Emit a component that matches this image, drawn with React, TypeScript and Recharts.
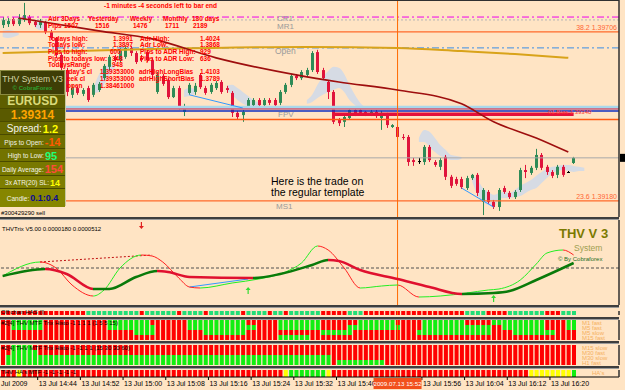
import React from "react";
import {
  ComposedChart,
  BarChart,
  Bar,
  Line,
  Area,
  XAxis,
  YAxis,
  ReferenceLine,
  ReferenceDot,
  Cell,
} from "recharts";

// 1-minute EURUSD bars, 13 Jul 2009 14:38 .. 16:25, as [open, high, low, close]
const candles: number[][] = [
  [1.39727, 1.39752, 1.39718, 1.39743], [1.3973, 1.39749, 1.39721, 1.3974], [1.39746, 1.39752, 1.39724, 1.3973],
  [1.3973, 1.39761, 1.39724, 1.39749], [1.39743, 1.39796, 1.39737, 1.39758], [1.39752, 1.39758, 1.39727, 1.39733],
  [1.39737, 1.39743, 1.39721, 1.39727], [1.39727, 1.39746, 1.39718, 1.3974], [1.39737, 1.3974, 1.39699, 1.39705],
  [1.39705, 1.39712, 1.39681, 1.39687], [1.39687, 1.3969, 1.39625, 1.39634], [1.39634, 1.39643, 1.39581, 1.39594],
  [1.39587, 1.39594, 1.39506, 1.39519], [1.3951, 1.39541, 1.395, 1.39531], [1.39531, 1.39538, 1.3951, 1.39516],
  [1.39513, 1.39531, 1.39506, 1.39525], [1.39531, 1.39538, 1.39488, 1.39494], [1.3951, 1.39547, 1.39503, 1.39541],
  [1.39525, 1.3955, 1.39519, 1.39544], [1.39562, 1.39606, 1.39556, 1.396], [1.39597, 1.39634, 1.39587, 1.39628],
  [1.39628, 1.39634, 1.39612, 1.39618], [1.39618, 1.39656, 1.39612, 1.3965], [1.39628, 1.39665, 1.39622, 1.39656],
  [1.39656, 1.39662, 1.39631, 1.3964], [1.3964, 1.39646, 1.39606, 1.39612], [1.39625, 1.39634, 1.39612, 1.39618],
  [1.39643, 1.3965, 1.39612, 1.39618], [1.39618, 1.39625, 1.39562, 1.39572], [1.39519, 1.39581, 1.39513, 1.39572],
  [1.39569, 1.39575, 1.39538, 1.39544], [1.39556, 1.39562, 1.39497, 1.39503], [1.39503, 1.39538, 1.395, 1.39531],
  [1.39531, 1.39538, 1.39463, 1.39472], [1.39457, 1.39482, 1.39444, 1.39475], [1.39516, 1.39547, 1.3951, 1.39541],
  [1.39519, 1.39547, 1.3951, 1.39538], [1.39572, 1.39578, 1.39528, 1.39534], [1.39531, 1.39538, 1.3951, 1.39516],
  [1.39519, 1.39547, 1.39513, 1.39541], [1.39531, 1.39553, 1.39525, 1.39547], [1.3955, 1.39556, 1.39513, 1.39519],
  [1.39531, 1.39538, 1.39516, 1.39525], [1.39516, 1.39522, 1.39441, 1.39454], [1.39454, 1.3946, 1.39435, 1.39441],
  [1.39447, 1.39463, 1.39426, 1.39457], [1.39472, 1.395, 1.39466, 1.39494], [1.39478, 1.395, 1.39472, 1.39494],
  [1.39494, 1.395, 1.39472, 1.39478], [1.39478, 1.395, 1.39472, 1.39494], [1.39494, 1.395, 1.39478, 1.39485],
  [1.39494, 1.395, 1.39472, 1.39478], [1.39485, 1.39525, 1.39478, 1.39519], [1.39519, 1.39547, 1.39513, 1.39541],
  [1.39541, 1.39575, 1.39534, 1.39569], [1.39569, 1.39575, 1.39556, 1.39562], [1.39562, 1.39587, 1.39556, 1.39581],
  [1.39572, 1.39594, 1.39566, 1.39587], [1.39587, 1.39646, 1.39581, 1.3964], [1.39643, 1.3965, 1.39575, 1.39581],
  [1.39587, 1.39594, 1.39556, 1.39562], [1.3955, 1.39556, 1.39497, 1.39519], [1.39519, 1.39525, 1.39419, 1.39426],
  [1.39432, 1.39438, 1.39413, 1.39422], [1.39426, 1.39447, 1.3941, 1.39441], [1.39438, 1.39469, 1.39432, 1.39463],
  [1.39463, 1.39466, 1.39444, 1.3945], [1.39463, 1.39469, 1.39447, 1.39454], [1.39457, 1.3946, 1.39444, 1.3945],
  [1.3945, 1.39463, 1.39444, 1.39457], [1.39457, 1.39463, 1.39438, 1.39444], [1.39438, 1.3946, 1.39401, 1.39454],
  [1.39447, 1.39454, 1.39407, 1.39416], [1.3941, 1.39419, 1.39407, 1.39416], [1.3941, 1.39416, 1.39373, 1.39379],
  [1.39379, 1.39388, 1.3937, 1.39376], [1.39379, 1.39385, 1.39289, 1.39301], [1.39307, 1.39314, 1.39289, 1.39301],
  [1.39304, 1.39314, 1.39295, 1.39304], [1.39301, 1.39354, 1.39292, 1.39348], [1.39348, 1.39354, 1.39301, 1.39307],
  [1.39301, 1.39307, 1.39286, 1.39292], [1.39286, 1.39314, 1.39276, 1.39307], [1.39317, 1.39323, 1.39245, 1.39255],
  [1.39255, 1.39261, 1.3922, 1.39227], [1.39248, 1.39255, 1.39227, 1.39233], [1.39248, 1.39255, 1.39217, 1.39223],
  [1.3922, 1.39258, 1.39214, 1.39251], [1.39251, 1.39264, 1.39245, 1.39261], [1.39261, 1.39267, 1.39195, 1.39205],
  [1.39177, 1.3922, 1.39136, 1.39214], [1.39208, 1.39214, 1.39171, 1.39177], [1.39177, 1.39183, 1.39155, 1.39161],
  [1.39161, 1.3922, 1.39149, 1.39214], [1.3922, 1.39227, 1.39202, 1.39208], [1.39205, 1.39211, 1.39186, 1.39192],
  [1.39192, 1.39214, 1.39186, 1.39208], [1.39214, 1.39283, 1.39208, 1.39276], [1.39276, 1.39292, 1.39251, 1.3927],
  [1.39267, 1.39289, 1.39261, 1.39283], [1.39283, 1.39342, 1.39276, 1.39323], [1.39323, 1.39329, 1.39276, 1.39283],
  [1.39286, 1.39292, 1.39261, 1.3927], [1.3927, 1.39276, 1.39251, 1.39258], [1.39261, 1.39292, 1.39251, 1.39286],
  [1.39286, 1.39292, 1.39255, 1.39261], [1.3927, 1.39273, 1.39267, 1.3927], [1.39298, 1.39317, 1.39295, 1.39314],
];

// moving averages, read at a few bars: [bar, price]
const maRed: number[][] = [
  [3, 1.39749], [18, 1.39709], [28, 1.39684], [40, 1.39625], [55, 1.39572], [63, 1.3955],
  [74, 1.39525], [86, 1.39482], [92, 1.39426], [100, 1.39376], [106, 1.39332],
];
const maGold: number[][] = [
  [0, 1.3964], [7, 1.39643], [30, 1.39653], [57, 1.39659], [74, 1.39656], [86, 1.39646], [96, 1.39637], [106, 1.39625],
];

// grey cloud: [bar, low, high]
const cloud: number[][] = [
  [0, 1.3969, 1.39709], [1, 1.39687, 1.39712], [2, 1.3969, 1.39709], [3, 1.39696, 1.39702],
  [6, 1.39721, 1.3973], [7, 1.39712, 1.39743], [8, 1.39715, 1.39733],
  [17, 1.39516, 1.39531], [18, 1.39519, 1.39572], [19, 1.39541, 1.39597], [20, 1.39572, 1.39603], [21, 1.39594, 1.39606],
  [34, 1.39503, 1.39525], [35, 1.39506, 1.39531], [36, 1.39513, 1.39528],
  [42, 1.39525, 1.39538], [43, 1.3951, 1.39541], [44, 1.39494, 1.39531], [45, 1.39482, 1.39519], [46, 1.39475, 1.39506],
  [47, 1.39472, 1.39494], [48, 1.39472, 1.39485],
  [57, 1.39482, 1.39494], [58, 1.39488, 1.3951], [59, 1.395, 1.39541], [60, 1.3951, 1.39566], [61, 1.39519, 1.39584],
  [62, 1.39525, 1.39597], [63, 1.39531, 1.39594], [64, 1.39519, 1.39575], [65, 1.39494, 1.39541], [66, 1.39478, 1.3951],
  [67, 1.39463, 1.39485], [68, 1.39457, 1.39469],
  [78, 1.39363, 1.39376], [79, 1.39363, 1.39401], [80, 1.39348, 1.39395], [81, 1.39332, 1.39376], [82, 1.3932, 1.39354],
  [83, 1.39314, 1.39339], [84, 1.39307, 1.39323], [85, 1.39307, 1.3932], [86, 1.39311, 1.39317],
  [88, 1.39239, 1.39261], [89, 1.39199, 1.39245], [90, 1.39177, 1.3922], [91, 1.39167, 1.39208], [92, 1.39161, 1.39199],
  [93, 1.39186, 1.39205], [94, 1.39189, 1.39208], [95, 1.39189, 1.39205], [96, 1.39192, 1.39214], [97, 1.39195, 1.39227],
  [98, 1.39205, 1.39236], [99, 1.39214, 1.39245], [100, 1.3922, 1.39258], [101, 1.39236, 1.3927], [102, 1.39251, 1.3928],
  [103, 1.39267, 1.39286], [104, 1.39273, 1.39289], [105, 1.39276, 1.39292], [106, 1.39273, 1.39292], [107, 1.3927, 1.39289],
  [108, 1.39273, 1.39286], [109, 1.39273, 1.39283],
];

// THVTrix, in units of 1e-5: [bar, value]
const trixFast: number[][] = [
  [0, -1.6], [7, 1.2], [10, 0], [13, -3.4], [17, -5.6], [19, -4.4], [22, 0], [26, 2.6], [28, 2.4], [30, 1.2],
  [33, -2.0], [35, -3.8], [37, -4.0], [43, -3.0], [48, -2.2], [53, -0.8], [56, 1.0], [59, 4.4], [61, 3.6], [64, 0],
  [67, -4.0], [71, -3.6], [74, -3.4], [78, -5.8], [82, -5.6], [87, -5.0], [91, -4.4], [93, -4.2], [97, -2.4],
  [100, 0.8], [102, 3.0], [105, 3.6], [107, 2.6],
];
const trixSlow: number[][] = [
  [0, -1.6], [8, -0.2], [12, -1.2], [17, -4.2], [20, -4.2], [25, -1.8], [29, -0.6], [31, -0.8], [35, -1.8],
  [47, -2.0], [52, -1.2], [58, 0.6], [61, 1.6], [63, 1.4], [67, -0.4], [74, -2.2], [80, -3.8], [86, -5.2],
  [92, -5.0], [95, -4.6], [100, -2.4], [107, 1.0],
];

// signal boxes per bar: R red, G green, Y yellow
const hasRow = [
  "RRRRRRRRRRRRRRRR", "GGGGGGGGGG", "R", "GGGGGG", "R", "GGGG", "R", "GGGGGG", "R", "GGGG", "R", "GG", "R",
  "GGGGGG", "RRRRR", "GGG", "RRRRRRRRRRRRRRRRRRR", "GGGG", "RRRR", "GGGGGGG", "RRR", "GGG",
].join("");
const mtfLow = [
  ["RR", "GGGGGG", "RRRRRRRRRRRR", "GGGGGGGG", "RRRRRRR", "GGGGGGGGGGG", "RRRRRR", "GGGGGGGG", "RRRRRRR", "GGGGGGG", "RRRRR", "GGGGGGGG", "RRRRR", "GGGGGGGGGG", "RRRR", "GG"].join(""),
  ["RR", "GGGGGG", "RRRRRRRRRRRR", "GGGGGGGGG", "RRRRRR", "GGGGGGGGGGGGG", "RRRR", "GGGGGGGG", "RRRRR", "GGGGGGGGGG", "RRRR", "GGGGGGGGGGGGG", "RR", "GGGGGGGG", "RRRR", "GG"].join(""),
  ["RRRRRRRRRRRRRRRRRRRRRRRRR", "GGGG", "RRRRRRRRR", "GGGGGGGG", "RRRRRRRRRRRRRR", "GGGGGG", "RRRRRRRRRRRR", "GGGGGGGGGGGGGG", "RRRR", "GGGGGGGG", "RRRR"].join(""),
  ["RRRRRRRRRRRRRRRRRRRRRRRRRRRRRRRRRRRRRRRRRRRRRRRRRRRR", "GGGGGG", "RRRRRRRRRRRRRRRRRRRRRRRRRRRRRRRRRRRRRRRRRRRRRRRRRR"].join(""),
];
const mtfHigh = [
  ["RR", "GGGG", "RRRRRRRRRRRRRRRRRRRRRRRRRRRRRRRRRRRRRRRRRRRRRRRRRRRRRRRRRRRRRRRRRRRRRRRRRRRRRRRRRRRRRRRRRRRRRRRRRRRRRRRR"].join(""),
  ["RR", "GGGGG", "RRRRRRRRRRRRRRRRRRRRRRRRRRRRRRRRRRRRRRRRRRRRRRRRRRRRRRRRRRRRRRRRRRRRRRRRRRRRRRRRRRRRRRRRRRRRRRRRRRRRRR"].join(""),
  ["R", "GGGGGGGGGGGGGGGGGGGGGGGGGGGGGGGGGGGGGGGGGGGGGGGGGGGGGGGGGGGGG", "RRRRRRRRRRRRRRRRRRRRRRRRRRRRRRRRRRRRRRRRRRRRRR"].join(""),
  ["R", "GGGGGGGGGGGGGGGGGGGGGGGGGGGGGGGGGGGGGGGGGGGGGGGGGGGGGGGGGGGGG", "R", "GGGGGGGGG", "RRRRRRRRRRRRRRRRRRRRRRRRRRRRRRRRRRRR"].join(""),
];
const haRow = [
  "RRR", "Y", "RRRRRRRRRRRRRRRRRRRRRRRRRRRRRRRRRRRRRRRRRRRRRRRRR", "Y", "GGGGGGG", "Y",
  "RRRRRRRRRRRRRRRRRRRRRRRRRRRRRRRRRRRRR", "YYYYYYYY", "G",
].join("");

// 15:48 sits under the highlighted 15:52 label, so it is not listed
const timeTicks = [0, 6, 14, 22, 30, 38, 46, 54, 62, 78, 86, 94, 102, 74];
const timeTexts = [
  "Jul 2009", "13 Jul 14:44", "13 Jul 14:52", "13 Jul 15:00", "13 Jul 15:08", "13 Jul 15:16", "13 Jul 15:24",
  "13 Jul 15:32", "13 Jul 15:40", "13 Jul 15:56", "13 Jul 16:04", "13 Jul 16:12", "13 Jul 16:20",
  "2009.07.13 15:52",
];
const markedBar = 74;
const barCount = candles.length;
const slotCount = 116; // bars plus the empty chart shift on the right

const BG = "#FFE4C4";
const FONT = "'Liberation Sans', Arial, sans-serif";
const RED = "#FF0000";
const GREEN = "#11EE11";

const slots = Array.from({ length: slotCount }, (_, i) => i);
const toMap = (pts: number[][]) => new Map(pts.map((p) => [p[0], p[1]]));
const maRedMap = toMap(maRed);
const maGoldMap = toMap(maGold);
const cloudMap = new Map(cloud.map((c) => [c[0], [c[1], c[2]]]));
const fastMap = toMap(trixFast);
const slowMap = toMap(trixSlow);

const mainRows = slots.map((i) => ({
  i,
  ohlc: candles[i] ?? null,
  ma: maRedMap.get(i) ?? null,
  gold: maGoldMap.get(i) ?? null,
  cloud: cloudMap.get(i) ?? null,
}));
const trixRows = slots.map((i) => ({ i, fast: fastMap.get(i) ?? null, slow: slowMap.get(i) ?? null }));
const boxRows = slots.map((i) => ({ i, a: i < barCount ? 1 : null, b: i < barCount ? 1 : null, c: i < barCount ? 1 : null, d: i < barCount ? 1 : null }));

const colorOf = (ch: string, green = GREEN) => (ch === "G" ? green : ch === "Y" ? "#FFFF00" : RED);

// colour a line green where it rises and red where it falls
const directionStops = (pts: number[][], up: string, down: string) => {
  const first = pts[0][0];
  const last = pts[pts.length - 1][0];
  const out: { off: number; color: string }[] = [];
  for (let k = 0; k < pts.length - 1; k++) {
    const color = pts[k + 1][1] >= pts[k][1] ? up : down;
    out.push({ off: (pts[k][0] - first) / (last - first), color });
    out.push({ off: (pts[k + 1][0] - first) / (last - first), color });
  }
  return out;
};

const Candle = (props: any) => {
  const { x, y, width, height, payload } = props;
  if (!payload || !payload.ohlc) return null;
  const [o, h, l, c] = payload.ohlc;
  const top = Math.min(y, y + height);
  const hgt = Math.abs(height);
  const span = h - l || 1e-9;
  const toY = (v: number) => top + ((h - v) / span) * hgt;
  const color = c > o ? "#2E8B57" : c < o ? "#E0143C" : "#000000";
  const cx = Math.round(x + width / 2) + 0.5;
  const bTop = toY(Math.max(o, c));
  const bBot = toY(Math.min(o, c));
  return (
    <g>
      <line x1={cx} x2={cx} y1={top} y2={top + hgt} stroke={color} strokeWidth={1} />
      <rect x={cx - 1.5} y={bTop} width={3} height={Math.max(1, bBot - bTop)} fill={color} />
    </g>
  );
};

const Arrow = (props: any) => {
  const { cx, cy, fill, up } = props;
  if (cx == null) return null;
  const d = up ? -1 : 1;
  return (
    <g stroke={fill} fill={fill}>
      <line x1={cx} x2={cx} y1={cy - 3 * d} y2={cy + 2 * d} strokeWidth={1.2} />
      <polygon points={`${cx - 2.5},${cy + 1 * d} ${cx + 2.5},${cy + 1 * d} ${cx},${cy + 4 * d}`} stroke="none" />
    </g>
  );
};

const rightLabel = (text: string, color: string) => (p: any) => {
  const vb = p.viewBox || {};
  return (
    <text x={vb.x + vb.width - 2} y={vb.y - 2} textAnchor="end" fontSize={7} fill={color} fontFamily={FONT}>
      {text}
    </text>
  );
};

const PriceBox = (p: any) => {
  const vb = p.viewBox || {};
  return <rect x={vb.x + vb.width + 1} y={vb.y - 4} width={8} height={8} fill="#000" />;
};

const TimeTick = (props: any) => {
  const { x, y, payload } = props;
  const k = timeTicks.indexOf(payload.value);
  const text = timeTexts[k];
  if (payload.value === markedBar) {
    return (
      <g>
        <rect x={x - 24} y={y + 1} width={48} height={11} fill="#F2501C" />
        <text x={x} y={y + 9} textAnchor="middle" fontSize={6.2} fill="#FFFFFF" fontFamily={FONT}>{text}</text>
      </g>
    );
  }
  if (k === 0) {
    return <text x={1} y={y + 9} fontSize={7} fill="#000" fontFamily={FONT}>{text}</text>;
  }
  return (
    <g>
      <line x1={x + 3} x2={x + 3} y1={y} y2={y + 3} stroke="#000" />
      <text x={x + 4} y={y + 9} fontSize={7} fill="#000" fontFamily={FONT}>{text}</text>
    </g>
  );
};

const xAxis = () => <XAxis dataKey="i" type="category" scale="band" hide />;
const axisRight = {
  orientation: "right" as const,
  width: 6,
  axisLine: { stroke: "#303030", strokeWidth: 1.5 },
  tickLine: { stroke: "#000" },
  tickSize: 3,
  tick: false,
};

const MainPanel = () => {
  return (
    <ComposedChart width={625} height={217} data={mainRows} margin={{ top: 0, right: 0, bottom: 0, left: 0 }} barGap={0}>
      {xAxis()}
      <YAxis {...axisRight} domain={[1.3913, 1.39805]} ticks={[1.3916, 1.3929, 1.3942, 1.3955, 1.3968, 1.3978]} allowDataOverflow />
      <Area dataKey="cloud" type="monotone" fill="#D6DBE4" fillOpacity={1} stroke="none" isAnimationActive={false} connectNulls={false} />
      <ReferenceLine y={1.39752} stroke="#EE00EE" strokeDasharray="7 3 2 3" />
      <ReferenceLine y={1.39743} stroke="#B4B4B4" strokeDasharray="2 2" />
      <ReferenceLine y={1.39706} stroke="#FF6A2A" strokeWidth={1.2} label={rightLabel("38.2 1.39706", "#FF6633")} />
      <ReferenceLine y={1.39656} stroke="#3A8EE6" strokeDasharray="7 3 2 3" />
      <ReferenceLine y={1.3947} stroke="#A9D8EC" strokeWidth={4} />
      <ReferenceLine y={1.39466} stroke="#E8203A" strokeWidth={1} />
      <ReferenceLine y={1.3946} stroke="#1030C0" strokeWidth={1.5} />
      <ReferenceLine segment={[{ x: 62, y: 1.3945 }, { x: 107, y: 1.3945 }]} stroke="#E4103A" strokeWidth={3.5} />
      <ReferenceLine y={1.39433} stroke="#FF5A10" strokeWidth={1.5} />
      <ReferenceLine y={1.39314} stroke="#A8A8A8" label={PriceBox} />
      <ReferenceLine y={1.3918} stroke="#FF6A2A" strokeWidth={1.2} label={rightLabel("23.6 1.39180", "#FF6633")} />
      <ReferenceLine segment={[{ x: 35, y: 1.3951 }, { x: 45, y: 1.39469 }]} stroke="#3399FF" />
      <ReferenceLine segment={[{ x: 86, y: 1.3922 }, { x: 92, y: 1.39161 }]} stroke="#3399FF" />
      <ReferenceLine x={markedBar} stroke="#FF6A00" />
      <Bar dataKey={(d: any) => (d.ohlc ? [d.ohlc[2], d.ohlc[1]] : null)} shape={Candle} barSize={3} isAnimationActive={false} />
      <Line dataKey="gold" type="monotone" stroke="#D9A31A" strokeWidth={2} dot={false} connectNulls isAnimationActive={false} />
      <Line dataKey="ma" type="monotone" stroke="#9E0E0E" strokeWidth={1.6} dot={false} connectNulls isAnimationActive={false} />
    </ComposedChart>
  );
};

const TrixPanel = () => {
  const fastStops = directionStops(trixFast, "#22EE22", "#FF2020");
  const slowStops = directionStops(trixSlow, "#0A7A0A", "#E0102F");
  return (
    <ComposedChart width={625} height={85} data={trixRows} margin={{ top: 0, right: 0, bottom: 0, left: 0 }}>
      <defs>
        <linearGradient id="gFast" x1="0" x2="1" y1="0" y2="0">
          {fastStops.map((s, k) => <stop key={k} offset={s.off} stopColor={s.color} />)}
        </linearGradient>
        <linearGradient id="gSlow" x1="0" x2="1" y1="0" y2="0">
          {slowStops.map((s, k) => <stop key={k} offset={s.off} stopColor={s.color} />)}
        </linearGradient>
      </defs>
      {xAxis()}
      <YAxis {...axisRight} domain={[-7.4, 9.6]} ticks={[-5, 0, 5]} allowDataOverflow />
      <ReferenceLine y={0} stroke="#505050" strokeDasharray="3 2" />
      <ReferenceLine x={markedBar} stroke="#FF6A00" />
      <ReferenceLine segment={[{ x: 7, y: 1.2 }, { x: 28, y: 2.6 }]} stroke="#C01010" strokeDasharray="2 2" />
      <ReferenceLine segment={[{ x: 35, y: -3.8 }, { x: 46, y: -2.2 }]} stroke="#3399FF" />
      <ReferenceLine segment={[{ x: 87, y: -5.0 }, { x: 92, y: -5.0 }]} stroke="#3399FF" />
      <Line dataKey="fast" type="monotone" stroke="url(#gFast)" strokeWidth={1} dot={false} connectNulls isAnimationActive={false} />
      <Line dataKey="slow" type="monotone" stroke="url(#gSlow)" strokeWidth={2.5} dot={false} connectNulls isAnimationActive={false} />
      <ReferenceDot x={26} y={8.6} r={3} fill="#E02020" shape={(p: any) => <Arrow {...p} fill="#E02020" up={false} />} />
      <ReferenceDot x={46} y={-4.6} r={3} fill="#33DD33" shape={(p: any) => <Arrow {...p} fill="#33DD33" up />} />
      <ReferenceDot x={92} y={-6.2} r={3} fill="#33DD33" shape={(p: any) => <Arrow {...p} fill="#33DD33" up />} />
    </ComposedChart>
  );
};

const BoxPanel = ({ rows, height, top, bottom, green, withAxis }: any) => {
  const keys = ["a", "b", "c", "d"].slice(0, rows.length);
  return (
    <BarChart width={625} height={height} data={boxRows} margin={{ top, right: 0, bottom, left: 0 }} barGap={0}>
      {withAxis ? (
        <XAxis dataKey="i" type="category" scale="band" ticks={timeTicks} interval={0} tick={TimeTick} tickSize={0} tickMargin={0} height={13} axisLine={{ stroke: "#000" }} tickLine={false} />
      ) : (
        xAxis()
      )}
      <YAxis {...axisRight} domain={[0, rows.length]} ticks={[]} allowDataOverflow />
      {keys.map((key, r) => {
        const row = rows[rows.length - 1 - r];
        return (
          <Bar key={key} dataKey={key} stackId="s" barSize={4} isAnimationActive={false}>
            {slots.map((i) => <Cell key={i} fill={colorOf(row[i] || "R", green)} />)}
          </Bar>
        );
      })}
      <ReferenceLine x={markedBar} stroke="#FF6A00" />
    </BarChart>
  );
};

const Txt = ({ x, y, size = 6.5, color = "#FF0000", bold = true, children }: any) => (
  <div
    style={{
      position: "absolute", left: x, top: y, fontSize: size, lineHeight: `${size + 1}px`, color,
      fontWeight: bold ? 700 : 400, whiteSpace: "nowrap",
    }}
  >
    {children}
  </div>
);

const Sep = ({ y, h = 2 }: any) => (
  <div style={{ position: "absolute", left: 0, top: y, width: 619, height: h, background: "#3E3E3E", borderBottom: "1px solid #9A9A9A" }} />
);

const infoRow = (label: string, value: string, valueColor: string, bg: string, top: number, h: number, labelSize = 6.5, valueSize = 11) => (
  <div style={{ position: "absolute", left: 0, top, width: 65, height: h, background: bg, borderTop: "1px solid #4A4A00", display: "flex", alignItems: "center", justifyContent: "center", whiteSpace: "nowrap" }}>
    <span style={{ fontSize: labelSize, color: "#F4F4E8" }}>{label}</span>
    <span style={{ fontSize: valueSize, fontWeight: 700, color: valueColor, marginLeft: 1 }}>{value}</span>
  </div>
);

export default function App() {
  return (
    <div style={{ position: "absolute", left: 0, top: 0, width: 625, height: 390, overflow: "hidden", background: BG, fontFamily: FONT }}>
      <div style={{ position: "absolute", left: 0, top: 0 }}><MainPanel /></div>
      <div style={{ position: "absolute", left: 0, top: 0, width: 619, height: 1, background: "#303030" }} />
      <Sep y={217} h={2} />
      <div style={{ position: "absolute", left: 0, top: 220 }}><TrixPanel /></div>
      <Sep y={305} />
      <div style={{ position: "absolute", left: 0, top: 307 }}>
        <BoxPanel rows={[hasRow]} height={10} top={4} bottom={2} green="#22DD77" />
      </div>
      <Sep y={317} />
      <div style={{ position: "absolute", left: 0, top: 319 }}>
        <BoxPanel rows={mtfLow} height={22} top={1} bottom={1} />
      </div>
      <Sep y={341} h={2} />
      <div style={{ position: "absolute", left: 0, top: 344 }}>
        <BoxPanel rows={mtfHigh} height={22} top={1} bottom={1} />
      </div>
      <Sep y={366} />
      <div style={{ position: "absolute", left: 0, top: 368 }}>
        <BoxPanel rows={[haRow]} height={22} top={2} bottom={0} withAxis />
      </div>

      {/* info text over the price window */}
      <Txt x={104} y={2}>-1 minutes -4 seconds left to bar end</Txt>
      <Txt x={48} y={15}>Adr 3Days</Txt>
      <Txt x={88} y={15}>Yesterday</Txt>
      <Txt x={130} y={15}>Weekly</Txt>
      <Txt x={163} y={15}>Monthly</Txt>
      <Txt x={192} y={15}>180 days</Txt>
      <Txt x={48} y={22}>Pips</Txt>
      <Txt x={64} y={22}>1507</Txt>
      <Txt x={95} y={22}>1516</Txt>
      <Txt x={133} y={22}>1476</Txt>
      <Txt x={165} y={22}>1711</Txt>
      <Txt x={193} y={22}>2189</Txt>
      <Txt x={48} y={35}>Todays high:</Txt>
      <Txt x={113} y={35}>1.3991</Txt>
      <Txt x={140} y={35}>Adr High:</Txt>
      <Txt x={200} y={35}>1.4024</Txt>
      <Txt x={48} y={41}>Todays low:</Txt>
      <Txt x={113} y={41}>1.3897</Txt>
      <Txt x={140} y={41}>Adr Low:</Txt>
      <Txt x={200} y={41}>1.3868</Txt>
      <Txt x={48} y={48}>Pips to high:</Txt>
      <Txt x={110} y={48}>600</Txt>
      <Txt x={140} y={48}>Pips to ADR High:</Txt>
      <Txt x={200} y={48}>929</Txt>
      <Txt x={48} y={55}>Pips to todays low:</Txt>
      <Txt x={112} y={55}>348</Txt>
      <Txt x={140} y={55}>Pips to ADR Low:</Txt>
      <Txt x={200} y={55}>636</Txt>
      <Txt x={48} y={61}>TodaysRange</Txt>
      <Txt x={112} y={61}>948</Txt>
      <Txt x={66} y={68}>rday's cl</Txt>
      <Txt x={100} y={68}>1.39353000</Txt>
      <Txt x={139} y={68}>adrHighLongBias</Txt>
      <Txt x={200} y={68}>1.4103</Txt>
      <Txt x={67} y={75}>eek cl</Txt>
      <Txt x={100} y={75}>1.39353000</Txt>
      <Txt x={139} y={75}>adrHighShortBias</Txt>
      <Txt x={200} y={75}>1.3789</Txt>
      <Txt x={67} y={82}>open</Txt>
      <Txt x={100} y={82}>1.38461000</Txt>

      {/* level names */}
      <Txt x={277} y={14} size={8} color="#9A9A9A" bold={false}>CR1</Txt>
      <Txt x={277} y={22} size={8} color="#9A9A9A" bold={false}>MR1</Txt>
      <Txt x={275} y={47} size={8.5} color="#9A9A9A" bold={false}>Open</Txt>
      <Txt x={278} y={110} size={8} color="#9A9A9A" bold={false}>FPV</Txt>
      <Txt x={276} y={202} size={8} color="#9A9A9A" bold={false}>MS1</Txt>
      <Txt x={548} y={109} size={6} color="#FF3030" bold={false}>01  Bias  1.39340</Txt>
      <div style={{ position: "absolute", left: 271, top: 176, fontSize: 10.5, lineHeight: "11px", color: "#000" }}>
        Here is the trade on<br />the regular template
      </div>
      <Txt x={1} y={210} size={6} color="#000" bold={false}>#300429290 sell</Txt>

      {/* THV info box */}
      <div style={{ position: "absolute", left: 0, top: 70, width: 65, height: 136, background: "#7A7A00", borderRight: "1px solid #C8C8A0" }}>
        <div style={{ position: "absolute", left: 0, top: 0, width: 65, height: 25, background: "#3E3E06", border: "1px solid #8A8A40", boxSizing: "border-box", textAlign: "center" }}>
          <div style={{ fontSize: 8.5, color: "#D8D8A8", marginTop: 3, whiteSpace: "nowrap" }}>THV System V3</div>
          <div style={{ fontSize: 6, color: "#2FA02F", fontWeight: 700, marginTop: 1 }}>© CobraForex</div>
        </div>
        <div style={{ position: "absolute", left: 0, top: 25, width: 65, height: 13, background: "#5E5E00", textAlign: "center", fontSize: 12, lineHeight: "13px", fontWeight: 700, color: "#DADA7A" }}>EURUSD</div>
        <div style={{ position: "absolute", left: 0, top: 38, width: 65, height: 13, background: "#5A5A00", borderTop: "1px solid #4A4A00", textAlign: "center", fontSize: 12, lineHeight: "13px", fontWeight: 700, color: "#FFA500" }}>1.39314</div>
        {infoRow("Spread:", "1.2", "#FFFF00", "#686800", 51, 13, 10, 11)}
        {infoRow("Pips to Open:", "-14", "#FF5A00", "#6E6E00", 64, 14)}
        {infoRow("High to Low:", "95", "#22FF77", "#737300", 78, 13)}
        {infoRow("Daily Average:", "154", "#FF4A3A", "#787800", 91, 14)}
        {infoRow("3x ATR(20) SL:", "14", "#FFFF00", "#7E7E00", 105, 13, 6.5, 9)}
        {infoRow("Candle:", "0.1:0.4", "#0A0A90", "#868600", 118, 18, 6.5, 9)}
      </div>

      {/* indicator window titles */}
      <Txt x={2} y={226} size={6} color="#000" bold={false}>THVTrix V5.00 0.0000180 0.0000512</Txt>
      <Txt x={559} y={227} size={13} color="#7A7A00">THV V 3</Txt>
      <Txt x={574} y={244} size={8.5} color="#A0A050" bold={false}>System</Txt>
      <Txt x={558} y={256} size={6} color="#1E6E1E" bold={false}>© By Cobraforex</Txt>
      <Txt x={1} y={309} size={6} color="#000" bold={false}>Off chan HAS (l)</Txt>
      <Txt x={1} y={320} size={6} color="#000" bold={false}>#2[4] THV MTF Trix Histo -1 1 1 1 (1 5 5 15)</Txt>
      <Txt x={1} y={345} size={6} color="#000" bold={false}>#2[4] THV MTF Trix Histo -1 -1 1 1 (15 30 30 60)</Txt>
      <Txt x={1} y={369} size={6} color="#000" bold={false}>THV HA's MTF -1 -1 -1 -1 -1</Txt>
      {["M1 fast", "M5 fast", "M5 slow", "M15 fast"].map((t, k) => (
        <Txt key={t} x={582} y={320 + k * 5} size={6} color="#F5B060" bold={false}>{t}</Txt>
      ))}
      {["M15 slow", "M30 fast", "M30 slow", "H1 fast"].map((t, k) => (
        <Txt key={t} x={582} y={345 + k * 5} size={6} color="#F5B060" bold={false}>{t}</Txt>
      ))}
      <Txt x={592} y={370} size={6} color="#F5B060" bold={false}>HA's</Txt>
    </div>
  );
}
